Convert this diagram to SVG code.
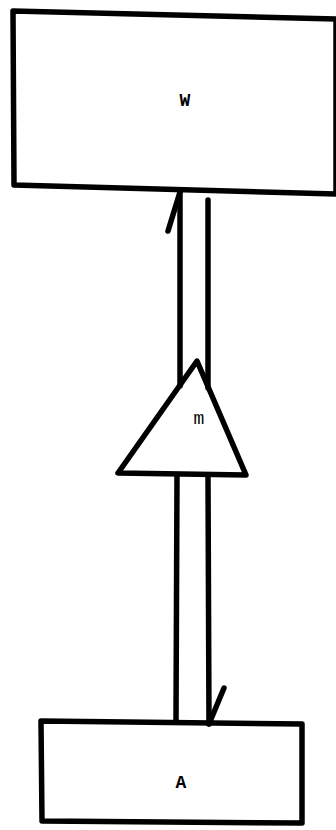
<svg xmlns="http://www.w3.org/2000/svg" width="336" height="830" viewBox="0 0 336 830">
<style>
.s{fill:none;stroke:#000;stroke-width:5.5;stroke-linecap:round;stroke-linejoin:round}
.c{fill:none;stroke:#000;stroke-width:5.5;stroke-linecap:round}
.t{font-family:"Liberation Mono",monospace;font-size:18px;font-weight:bold;text-anchor:middle;fill:#000}
</style>
<rect width="336" height="830" fill="#fff"/>
<g id="node-W">
<polygon class="s" points="13,11 336,19 336,194 14,185"/>
<text class="t" x="185" y="106">W</text>
</g>
<g id="node-m">
<polygon class="s" points="197,361 118,473 246,475"/>
<text class="t" x="199" y="424" style="font-weight:normal">m</text>
</g>
<g id="node-A">
<polygon class="s" points="41,721 302,724 302,823 42,821"/>
<text class="t" x="181" y="788">A</text>
</g>
<g id="connectors">
<line class="c" x1="180" y1="190" x2="180" y2="386"/>
<line class="c" x1="180" y1="192" x2="168" y2="231"/>
<line class="c" x1="208" y1="200" x2="208" y2="388"/>
<line class="c" x1="177" y1="476" x2="176" y2="721"/>
<line class="c" x1="208" y1="476" x2="209" y2="724"/>
<line class="c" x1="209" y1="724" x2="224" y2="688"/>
</g>
</svg>
